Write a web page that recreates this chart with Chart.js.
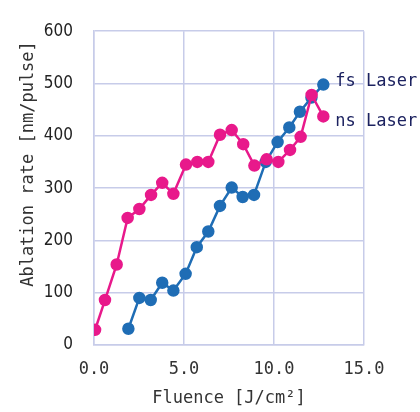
<!DOCTYPE html>
<html>
<head>
<meta charset="utf-8">
<script src="https://cdn.jsdelivr.net/npm/chart.js@4"></script>
<style>
  html, body { margin: 0; padding: 0; background: #fff; }
  #wrap { width: 420px; height: 412px; }
</style>
</head>
<body>
<div id="wrap"><canvas id="chart" width="420" height="412"></canvas></div>
<script>
// fluence [J/cm2] and ablation rate [nm/pulse]
const nsFluence = [0.06, 0.61, 1.26, 1.87, 2.52, 3.17, 3.79, 4.41, 5.11, 5.74, 6.35, 7.0, 7.65, 8.29, 8.91, 9.59, 10.24, 10.89, 11.48, 12.09, 12.74];
const nsRate    = [29, 86, 154, 243, 260, 287, 310, 289, 345, 350, 350, 402, 411, 384, 343, 355, 350, 373, 398, 478, 437];
const fsFluence = [1.91, 2.52, 3.15, 3.79, 4.41, 5.09, 5.71, 6.35, 7.0, 7.65, 8.26, 8.89, 9.54, 10.2, 10.85, 11.44, 12.08, 12.74];
const fsRate    = [31, 90, 86, 119, 104, 136, 187, 217, 266, 301, 283, 287, 350, 388, 416, 446, 473, 498];
const xTicks = [0, 5, 10, 15];
const yTicks = [0, 100, 200, 300, 400, 500, 600];
const seriesNames = ['fs Laser', 'ns Laser'];

const mono = '"DejaVu Sans Mono", monospace';
const gridColor = '#c7cce9';

function toPoints(xs, ys) {
    return xs.map((x, i) => ({ x: x, y: ys[i] }));
}

// axis titles and the end-of-line labels
const labelPlugin = {
    id: 'labels',
    afterDraw(chart) {
        const ctx = chart.ctx;
        const area = chart.chartArea;
        ctx.save();
        ctx.fillStyle = '#333';
        ctx.font = '17px ' + mono;
        ctx.textAlign = 'center';
        ctx.textBaseline = 'middle';
        ctx.fillText('Fluence [J/cm²]', (area.left + area.right) / 2, 399);
        ctx.translate(29, 164);
        ctx.rotate(-Math.PI / 2);
        ctx.fillText('Ablation rate [nm/pulse]', 0, 0);
        ctx.restore();

        ctx.save();
        ctx.fillStyle = '#1c2260';
        ctx.font = '17px ' + mono;
        ctx.textAlign = 'left';
        ctx.textBaseline = 'middle';
        chart.data.datasets.forEach((ds, i) => {
            const meta = chart.getDatasetMeta(i);
            const last = meta.data[meta.data.length - 1];
            const dy = i === 0 ? -3 : 5;
            ctx.fillText(seriesNames[i], last.x + 12, last.y + dy);
        });
        ctx.restore();
    }
};

new Chart(document.getElementById('chart').getContext('2d'), {
    type: 'line',
    data: {
        datasets: [{
            label: seriesNames[0],
            data: toPoints(fsFluence, fsRate),
            borderColor: '#1f6db5',
            backgroundColor: '#1f6db5',
            borderWidth: 2.5,
            pointRadius: 5,
            tension: 0,
            order: 1
        }, {
            label: seriesNames[1],
            data: toPoints(nsFluence, nsRate),
            borderColor: '#e8198b',
            backgroundColor: '#e8198b',
            borderWidth: 2.5,
            pointRadius: 5,
            tension: 0,
            order: 0
        }]
    },
    options: {
        responsive: false,
        animation: false,
        layout: { padding: { left: 0, right: 56, top: 18, bottom: 0 } },
        plugins: { legend: { display: false }, tooltip: { enabled: false } },
        scales: {
            x: {
                type: 'linear',
                min: 0,
                max: 15,
                afterBuildTicks: s => { s.ticks = xTicks.map(v => ({ value: v })); },
                afterFit: s => { s.height = 67; },
                grid: { color: gridColor, lineWidth: 1.5, drawTicks: false },
                border: { color: gridColor, width: 1.5 },
                ticks: {
                    padding: 14,
                    color: '#333',
                    font: { family: mono, size: 17 },
                    callback: v => v.toFixed(1)
                }
            },
            y: {
                min: 0,
                max: 600,
                afterBuildTicks: s => { s.ticks = yTicks.map(v => ({ value: v })); },
                afterFit: s => { s.width = 94; },
                grid: { color: gridColor, lineWidth: 1.5, drawTicks: false },
                border: { color: gridColor, width: 1.5 },
                ticks: {
                    padding: 21,
                    color: '#222',
                    font: { family: '"DejaVu Sans Condensed", "DejaVu Sans"', size: 17 }
                }
            }
        }
    },
    plugins: [labelPlugin]
});
</script>
</body>
</html>
